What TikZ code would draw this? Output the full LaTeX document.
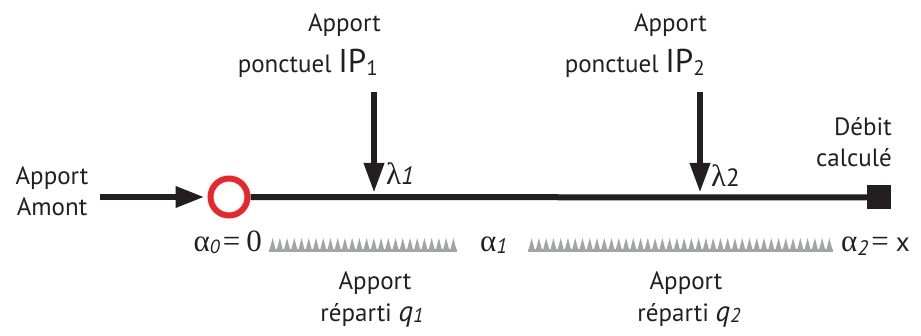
\documentclass[tikz,border=0pt]{standalone}
\usepackage{fontspec}
\setmainfont{PT Sans}
\newfontfamily\serifgr{Liberation Serif}
\usetikzlibrary{arrows.meta}
\definecolor{ink}{HTML}{231F20}
\definecolor{ringred}{HTML}{E8262B}
\definecolor{toothgray}{HTML}{A3A4A7}
\newcommand\sgr[1]{{\serifgr\fontsize{31}{31}\selectfont #1}}
\newcommand\isub[2]{{\itshape\fontsize{#1}{#1}\selectfont #2}}
\newcommand\bigIP[1]{{\fontsize{33}{33}\selectfont IP}\raisebox{-3pt}{\fontsize{21}{21}\selectfont #1}}
\begin{document}
\begin{tikzpicture}[x=1pt,y=-1pt,
  lbl/.style={font=\fontsize{25}{31}\selectfont, inner sep=0pt, text=ink},
  flow/.style={line width=6.5pt, draw=ink, -{Triangle[length=29pt,width=20pt]}},
  tooth/.style={fill=toothgray}]
\useasboundingbox (0,0) rectangle (921,336);

% main axis
\node[circle, draw=ringred, line width=6pt, minimum size=37pt, inner sep=0pt, fill=white] (src) at (229,197) {};
\node[rectangle, fill=ink, minimum size=24pt, inner sep=0pt] (out) at (879,197.5) {};
\draw[line width=6pt, ink] (src) -- (out);

% upstream inflow
\node[lbl, align=center] (amont) at (52,191) {Apport\\Amont};
\coordinate (a0) at (100,197);
\draw[flow] (a0) -- ([xshift=-3pt]src.west);

% point inflows
\node[lbl, anchor=base east] (ip1a) at (381,32) {Apport};
\node[lbl, anchor=base east] (ip1b) at (378,73) {ponctuel \bigIP{1}};
\coordinate (p1) at (374,92);
\coordinate (l1) at (374,193);
\draw[flow, -{Triangle[length=30pt,width=19pt]}] (p1) -- (l1);
\node[anchor=base west, inner sep=0pt, text=ink] (lam1) at (386,185) {\sgr{λ}\isub{25}{1}};

\node[lbl, anchor=base east] (ip2a) at (707,32) {Apport};
\node[lbl, anchor=base east] (ip2b) at (705,73) {ponctuel \bigIP{2}};
\coordinate (p2) at (700,92);
\coordinate (l2) at (700,193);
\draw[flow, -{Triangle[length=30pt,width=19pt]}] (p2) -- (l2);
\node[anchor=base west, inner sep=0pt, text=ink] (lam2) at (711,187) {\sgr{λ}{\fontsize{25}{25}\selectfont 2}};

% output label
\node[lbl, align=right, anchor=east] (debit) at (892,142) {Débit\\calculé};

% distributed inflow teeth
\fill[tooth] (269,252) \foreach \i in {1,...,26} { -- ++(3.615,-14) -- ++(3.615,14) } -- cycle;
\fill[tooth] (269,249.5) rectangle (457,252.5);
\fill[tooth] (528,252) \foreach \i in {1,...,42} { -- ++(3.631,-14) -- ++(3.631,14) } -- cycle;
\fill[tooth] (528,249.5) rectangle (833,252.5);

% abscissa labels
\node[anchor=base east, inner sep=0pt, text=ink] (al0) at (262,252) {\sgr{α}\raisebox{-2pt}{\isub{19}{0}}\hspace{3pt}\sgr{=}\hspace{6pt}\sgr{0}};
\node[anchor=base west, inner sep=0pt, text=ink] (al1) at (480,252) {\sgr{α}\raisebox{-2pt}{\isub{21}{1}}};
\node[anchor=base west, inner sep=0pt, text=ink] (al2) at (841,252) {\sgr{α}\raisebox{-4pt}{\isub{21}{2}}\hspace{3pt}\sgr{=}\hspace{7pt}{\fontsize{27}{27}\selectfont x}};

% distributed inflow labels
\node[lbl, anchor=base] (q1a) at (375,290) {Apport};
\node[lbl, anchor=base] (q1b) at (372,322) {réparti {\itshape\fontsize{29}{29}\selectfont q}\raisebox{-1pt}{\isub{20}{1}}};
\node[lbl, anchor=base] (q2a) at (686,290) {Apport};
\node[lbl, anchor=base] (q2b) at (689,322) {réparti {\itshape\fontsize{29}{29}\selectfont q}\raisebox{-1pt}{\isub{20}{2}}};
\end{tikzpicture}
\end{document}
